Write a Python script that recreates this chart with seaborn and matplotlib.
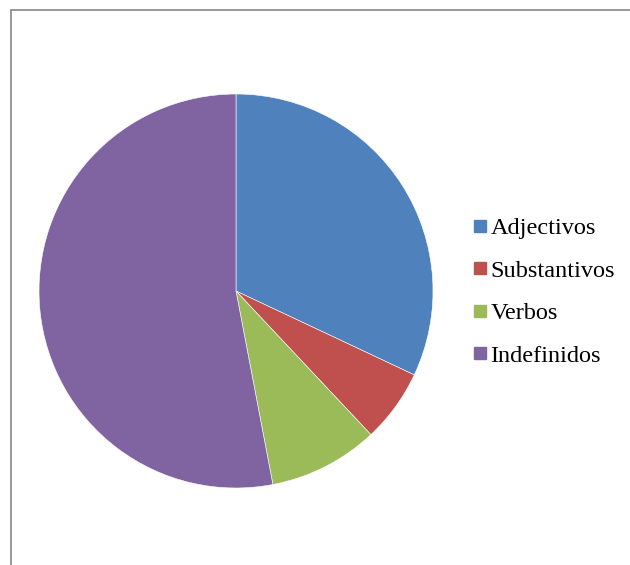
import matplotlib
matplotlib.use("Agg")
import matplotlib.pyplot as plt
from matplotlib.lines import Line2D
import seaborn as sns

# Share of each word class
categories = ["Adjectivos", "Substantivos", "Verbos", "Indefinidos"]
values = [32, 6, 9, 53]
palette = ["#4F81BD", "#C0504D", "#9BBB59", "#8064A2"]

sns.set_theme(style="white")
plt.rcParams["font.family"] = ["Liberation Serif", "DejaVu Serif"]
colors = sns.color_palette(palette)

W, H = 630, 565
fig = plt.figure(figsize=(W / 100, H / 100), dpi=100)
fig.patch.set_facecolor("white")

# Pie axes: centre (236, 291) px, radius 197 px
cx, cy, r = 236, 291, 197
ax = fig.add_axes([(cx - r) / W, (H - cy - r) / H, 2 * r / W, 2 * r / H])
wedges, _ = ax.pie(values, colors=colors, startangle=90, counterclock=False,
                   radius=1.0, wedgeprops=dict(edgecolor="white", linewidth=0.4))
ax.set_xlim(-1, 1)
ax.set_ylim(-1, 1)
ax.set_aspect("equal")
ax.axis("off")

# Chart-area border (left and top edges)
fig.add_artist(Line2D([10.5 / W, 10.5 / W], [-0.01, 1 - 9.5 / H],
                      color="#878787", linewidth=1.2, transform=fig.transFigure))
fig.add_artist(Line2D([10.5 / W, 1.01], [1 - 9.5 / H, 1 - 9.5 / H],
                      color="#878787", linewidth=1.2, transform=fig.transFigure))

handles = [Line2D([], [], marker="s", linestyle="none", markersize=8,
                  markerfacecolor=c, markeredgecolor=c) for c in colors]
fig.legend(handles, categories, loc="center left",
           bbox_to_anchor=(473 / W, 1 - 292 / H), frameon=False,
           fontsize=17.5, handlelength=0.6, handletextpad=0.12,
           labelspacing=0.84, borderaxespad=0, borderpad=0,
           labelcolor="black")

fig.savefig("out.png", dpi=100, facecolor="white")
